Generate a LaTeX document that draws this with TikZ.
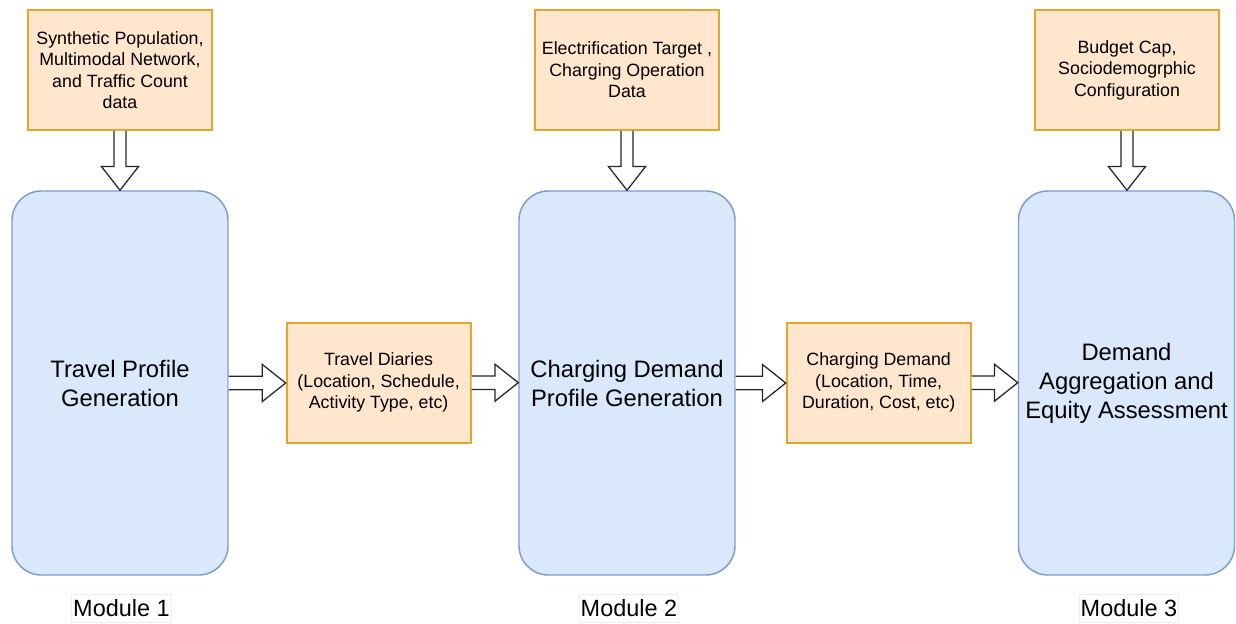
\documentclass[tikz,border=0pt]{standalone}
\usepackage{fontspec}
\setmainfont{Liberation Sans}
\usetikzlibrary{calc}

\definecolor{inFill}{HTML}{FFE6CC}
\definecolor{inLine}{HTML}{E2A62C}
\definecolor{modFill}{HTML}{DAE8FC}
\definecolor{modLine}{HTML}{7C9CCB}
\definecolor{arrowLine}{HTML}{262626}

\tikzset{
  databox/.style={draw=inLine, fill=inFill, line width=1.4pt,
    minimum width=138pt, minimum height=90pt, inner sep=2pt,
    align=center, font=\fontsize{13.35}{16.1}\selectfont},
  modulebox/.style={draw=modLine, fill=modFill, line width=1.1pt,
    rounded corners=22pt, minimum width=162pt, minimum height=288pt,
    align=center, font=\fontsize{17.85}{21.75}\selectfont},
  modlabel/.style={draw=black!7, fill=white, line width=0.6pt,
    inner xsep=1pt, inner ysep=0pt, minimum height=21pt,
    font=\fontsize{17.6}{21}\selectfont},
  flex/.style={draw=arrowLine, fill=white, line width=0.95pt, line join=miter}
}

% hollow block arrows between named nodes
\newcommand\flexdown[2]{%
  \path[flex] let \p1=(#1.south), \p2=(#2.north) in
    (\x1-4.5pt,\y1) -- (\x1-4.5pt,\y2+17.8pt) -- (\x1-13.9pt,\y2+17.8pt)
    -- (\x1,\y2) -- (\x1+13.9pt,\y2+17.8pt) -- (\x1+4.5pt,\y2+17.8pt)
    -- (\x1+4.5pt,\y1);}
\newcommand\flexright[2]{%
  \path[flex] let \p1=(#1.east), \p2=(#2.west) in
    (\x1,\y1+5.1pt) -- (\x2-17.5pt,\y1+5.1pt) -- (\x2-17.5pt,\y1+13.9pt)
    -- (\x2,\y1) -- (\x2-17.5pt,\y1-13.9pt) -- (\x2-17.5pt,\y1-5.1pt)
    -- (\x1,\y1-5.1pt);}

\begin{document}
\begin{tikzpicture}[x=0.75pt, y=-0.75pt]
  \useasboundingbox (0,0) rectangle (1236,624);

  % inputs
  \node[databox] (popdata) at (120,70)
    {Synthetic Population,\\Multimodal Network,\\and Traffic Count\\data};
  \node[databox] (elecdata) at (627,70)
    {Electrification Target ,\\Charging Operation\\Data};
  \node[databox] (budgetdata) at (1127,70)
    {Budget Cap,\\Sociodemogrphic\\Configuration};

  % modules
  \node[modulebox] (travel) at (120,383) {Travel Profile\\Generation};
  \node[modulebox] (charging) at (627,383) {Charging Demand\\Profile Generation};
  \node[modulebox] (equity) at (1126.5,383)
    {Demand\\Aggregation and\\Equity Assessment};

  % intermediate outputs
  \node[databox] (diaries) at (378.6,382.7)
    {Travel Diaries\\(Location, Schedule,\\Activity Type, etc)};
  \node[databox] (demand) at (878.7,382.7)
    {Charging Demand\\(Location, Time,\\Duration, Cost, etc)};

  % module captions
  \node[modlabel] (lab1) at (121.5,608) {Module 1};
  \node[modlabel] (lab2) at (629,608) {Module 2};
  \node[modlabel] (lab3) at (1129,608) {Module 3};

  % flows
  \flexdown{popdata}{travel}
  \flexdown{elecdata}{charging}
  \flexdown{budgetdata}{equity}
  \flexright{travel}{diaries}
  \flexright{diaries}{charging}
  \flexright{charging}{demand}
  \flexright{demand}{equity}
\end{tikzpicture}
\end{document}
